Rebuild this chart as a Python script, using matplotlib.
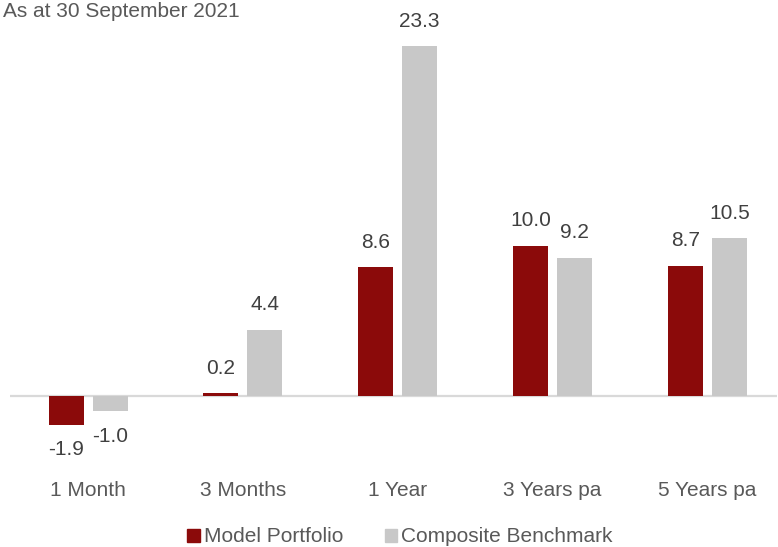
import numpy as np
import matplotlib.pyplot as plt
from matplotlib.patches import Patch

categories = ['1 Month', '3 Months', '1 Year', '3 Years pa', '5 Years pa']
model = [-1.9, 0.2, 8.6, 10.0, 8.7]
benchmark = [-1.0, 4.4, 23.3, 9.2, 10.5]
series_names = ['Model Portfolio', 'Composite Benchmark']

red = '#8B0A0A'
grey = '#C8C8C8'
plt.rcParams['font.family'] = ['Liberation Sans', 'DejaVu Sans']

fig = plt.figure(figsize=(7.78, 5.47), dpi=100)
W, H = 778, 547
# axes placed in pixel terms
left, right, top, bottom = 10, 777, 30, 470
ax = fig.add_axes([left / W, 1 - bottom / H, (right - left) / W, (bottom - top) / H])

x = np.arange(len(categories))
off = 0.142
width = 0.226
b1 = ax.bar(x - off, model, width, color=red)
b2 = ax.bar(x + off, benchmark, width, color=grey)

for bars, vals in ((b1, model), (b2, benchmark)):
    for b, v in zip(bars, vals):
        dy = 18 if v >= 0 else -18
        ax.annotate(f'{v:.1f}', (b.get_x() + b.get_width() / 2, v),
                    xytext=(0, dy), textcoords='offset points',
                    ha='center', va='center', fontsize=15, color='#404040')

ax.axhline(0, color='#D9D9D9', lw=1.6, zorder=0)
ax.set_xlim(-0.504, 4.45)
ax.set_ylim(-(bottom - 396) / 15.0, (396 - top) / 15.0)
ax.set_xticks(x)
ax.set_xticklabels(categories, fontsize=15, color='#595959')
ax.tick_params(axis='x', length=0, pad=8)
ax.set_yticks([])
for s in ax.spines.values():
    s.set_visible(False)

fig.text(3 / W, 1 - 2 / H, 'As at 30 September 2021', ha='left', va='top',
         fontsize=15, color='#595959')

handles = [Patch(color=red), Patch(color=grey)]
fig.legend(handles, series_names, loc='center', bbox_to_anchor=(400 / W, 1 - 537 / H),
           ncol=2, frameon=False, fontsize=15, handlelength=0.6, handleheight=0.6,
           handletextpad=0.2, columnspacing=2.0, labelcolor='#595959')

fig.savefig('out.png', dpi=100)
